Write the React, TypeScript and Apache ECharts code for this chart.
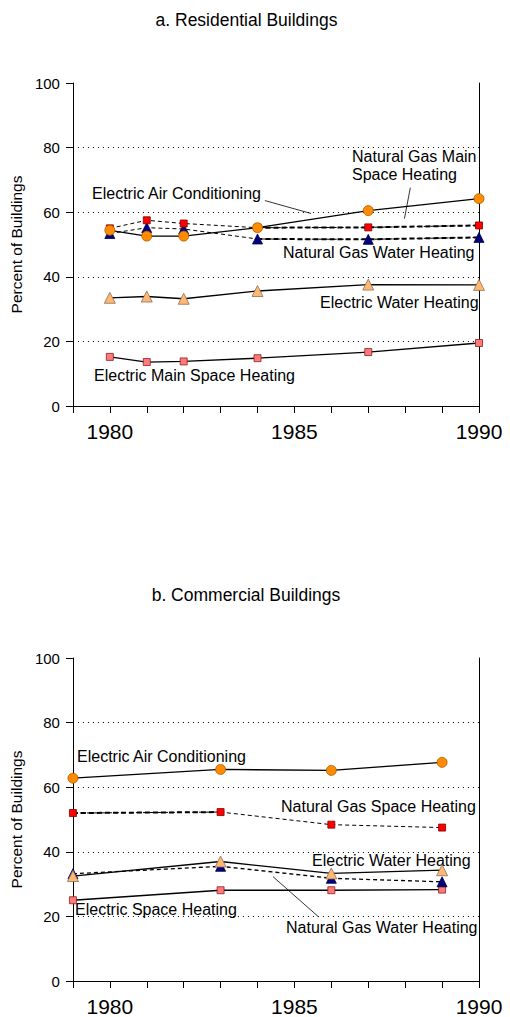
import React, { useEffect, useRef } from "react";
import * as echarts from "echarts";

// ---- Data ----
const resYears = [1980, 1981, 1982, 1984, 1987, 1990];
const resAirCond = [54.4, 52.6, 52.6, 55.2, 60.5, 64.2];
const resGasSpace = [55.0, 57.5, 56.5, 55.2, 55.3, 55.9];
const resGasWater = [53.4, 55.2, 54.8, 51.7, 51.6, 52.2];
const resElecWater = [33.5, 33.9, 33.2, 35.6, 37.6, 37.5];
const resElecSpace = [15.2, 13.6, 13.8, 14.8, 16.7, 19.5];

const comYears = [1979, 1983, 1986, 1989];
const comAirCond = [62.8, 65.5, 65.2, 67.7];
const comGasSpace = [52.0, 52.3, 48.4, 47.5];
const comElecWater = [32.5, 37.0, 33.3, 34.3];
const comGasWater = [33.2, 35.5, 31.8, 30.7];
const comElecSpace = [25.0, 28.1, 28.1, 28.3];

const yearLabels = [1980, 1985, 1990];

const pairs = (xs: number[], ys: number[]) => xs.map((x, i) => [x, ys[i]]);

const FONT = "'Liberation Sans', Arial, sans-serif";

const STYLES = {
  airCond: { symbol: "circle", size: 10, color: "#FF8C00", border: "#A85A00" },
  gasSpace: { symbol: "rect", size: 7, color: "#FF0000", border: "#800000" },
  gasWater: { symbol: "triangle", size: 10, color: "#000080", border: "#000040" },
  elecWater: { symbol: "triangle", size: 11, color: "#FFB870", border: "#8C7060" },
  elecSpace: { symbol: "rect", size: 7, color: "#FF7A7A", border: "#8B2020" },
};

function mkSeries(
  name: string,
  gi: number,
  data: number[][],
  st: any,
  dashed: boolean,
  width: number,
  z: number
) {
  return {
    type: "line",
    name,
    xAxisIndex: gi,
    yAxisIndex: gi * 2,
    data,
    symbol: st.symbol,
    symbolSize: st.size,
    showSymbol: true,
    z,
    lineStyle: { color: "#000", width, type: dashed ? [4, 3] : "solid" },
    itemStyle: { color: st.color, borderColor: st.border, borderWidth: 0.8 },
    emphasis: { disabled: true },
  };
}

function segSeries(gi: number, data: number[][], width: number, z: number) {
  return {
    type: "line",
    xAxisIndex: gi,
    yAxisIndex: gi * 2,
    data,
    symbol: "none",
    z,
    lineStyle: { color: "#000", width, type: [5, 3] },
    emphasis: { disabled: true },
  };
}

function leader(gi: number, from: number[], to: number[]) {
  return {
    type: "line",
    xAxisIndex: gi,
    yAxisIndex: gi * 2,
    data: [],
    markLine: {
      silent: true,
      symbol: "none",
      label: { show: false },
      lineStyle: { color: "#000", width: 0.8, type: "solid" },
      data: [[{ coord: from }, { coord: to }]],
    },
  };
}

const GRIDS = [
  { left: 68, right: 31, top: 83, height: 323 },
  { left: 68, right: 31, top: 658, height: 324.5 },
];

function xAxisFor(gi: number) {
  return {
    type: "value",
    gridIndex: gi,
    min: 1979,
    max: 1990,
    interval: 1,
    axisLine: { show: true, lineStyle: { color: "#000", width: 1 } },
    axisTick: { show: true, inside: false, length: 7, lineStyle: { color: "#000" } },
    axisLabel: {
      show: true,
      margin: 15,
      color: "#000",
      fontFamily: FONT,
      fontSize: 21,
      formatter: (v: number) => (yearLabels.includes(v) ? String(v) : ""),
    },
    splitLine: { show: false },
  };
}

function yAxesFor(gi: number) {
  return [
    {
      type: "value",
      gridIndex: gi,
      position: "left",
      min: 0,
      max: 100,
      interval: 20,
      name: "Percent of Buildings",
      nameLocation: "middle",
      nameGap: 44,
      nameRotate: 90,
      nameTextStyle: { color: "#000", fontFamily: FONT, fontSize: 15.5 },
      axisLine: { show: true, lineStyle: { color: "#000", width: 1 } },
      axisTick: { show: true, inside: false, length: 7, lineStyle: { color: "#000" } },
      axisLabel: { color: "#000", fontFamily: FONT, fontSize: 15, margin: 13 },
      splitLine: {
        show: true,
        showMinLine: false,
        showMaxLine: false,
        lineStyle: { color: "#000", width: 1, type: [1, 4] },
      },
    },
    {
      type: "value",
      gridIndex: gi,
      position: "right",
      min: 0,
      max: 100,
      interval: 20,
      axisLine: { show: true, lineStyle: { color: "#000", width: 1 } },
      axisTick: { show: false },
      axisLabel: { show: false },
      splitLine: { show: false },
    },
  ];
}

function txt(x: number, y: number, text: string, size = 16, align = "left") {
  return {
    type: "text",
    x,
    y,
    silent: true,
    style: {
      text,
      fill: "#000",
      font: `${size}px ${FONT}`,
      textAlign: align,
      textVerticalAlign: "middle",
      lineHeight: 18,
    },
  };
}

export default function App() {
  const ref = useRef<HTMLDivElement>(null);
  useEffect(() => {
    if (!ref.current) return;
    const chart = echarts.init(ref.current, undefined, { renderer: "svg" });
    const resGasSpaceD = pairs(resYears, resGasSpace);
    const resGasWaterD = pairs(resYears, resGasWater);
    const comGasSpaceD = pairs(comYears, comGasSpace);
    const option: any = {
      animation: false,
      backgroundColor: "#fff",
      grid: GRIDS,
      xAxis: [xAxisFor(0), xAxisFor(1)],
      yAxis: [...yAxesFor(0), ...yAxesFor(1)],
      series: [
        // Residential
        segSeries(0, resGasSpaceD.slice(3), 2, 2),
        segSeries(0, resGasWaterD.slice(3), 2, 2),
        mkSeries("Electric Main Space Heating", 0, pairs(resYears, resElecSpace), STYLES.elecSpace, false, 1.3, 3),
        mkSeries("Electric Water Heating", 0, pairs(resYears, resElecWater), STYLES.elecWater, false, 1.3, 3),
        mkSeries("Natural Gas Water Heating", 0, resGasWaterD, STYLES.gasWater, true, 1, 3),
        mkSeries("Natural Gas Main Space Heating", 0, resGasSpaceD, STYLES.gasSpace, true, 1, 4),
        mkSeries("Electric Air Conditioning", 0, pairs(resYears, resAirCond), STYLES.airCond, false, 1.3, 5),
        leader(0, [1984.2, 63.6], [1985.45, 59.6]),
        leader(0, [1988.14, 67.6], [1987.98, 58.0]),
        // Commercial
        segSeries(1, comGasSpaceD.slice(0, 2), 2, 2),
        mkSeries("Electric Space Heating", 1, pairs(comYears, comElecSpace), STYLES.elecSpace, false, 1.3, 3),
        mkSeries("Natural Gas Water Heating", 1, pairs(comYears, comGasWater), STYLES.gasWater, true, 1.3, 3),
        mkSeries("Electric Water Heating", 1, pairs(comYears, comElecWater), STYLES.elecWater, false, 1.3, 4),
        mkSeries("Natural Gas Space Heating", 1, comGasSpaceD, STYLES.gasSpace, true, 1, 4),
        mkSeries("Electric Air Conditioning", 1, pairs(comYears, comAirCond), STYLES.airCond, false, 1.3, 5),
        leader(1, [1984.42, 32.3], [1985.65, 19.9]),
      ],
      graphic: [
        txt(246.5, 19.5, "a. Residential Buildings", 17.5, "center"),
        txt(246, 594.5, "b. Commercial Buildings", 17.5, "center"),
        txt(92, 193, "Electric Air Conditioning"),
        txt(352, 165, "Natural Gas Main\nSpace Heating"),
        txt(283, 252, "Natural Gas Water Heating"),
        txt(320, 302, "Electric Water Heating"),
        txt(94, 375, "Electric Main Space Heating"),
        txt(77, 756, "Electric Air Conditioning"),
        txt(281, 806, "Natural Gas Space Heating"),
        txt(312, 860, "Electric Water Heating"),
        txt(75, 909, "Electric Space Heating"),
        txt(286, 927, "Natural Gas Water Heating"),
      ],
    };
    chart.setOption(option);
    return () => chart.dispose();
  }, []);
  return (
    <div
      ref={ref}
      style={{ position: "fixed", left: 0, top: 0, width: 510, height: 1017, background: "#fff" }}
    />
  );
}
